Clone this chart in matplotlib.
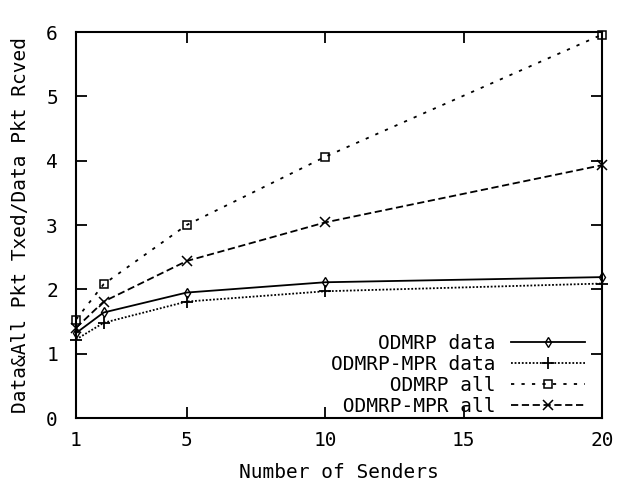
import matplotlib
matplotlib.use('Agg')
import matplotlib.pyplot as plt

# number of senders
senders = [1, 2, 5, 10, 20]

odmrp_data = [1.32, 1.64, 1.95, 2.11, 2.19]
mpr_data = [1.22, 1.48, 1.81, 1.97, 2.09]
odmrp_all = [1.53, 2.08, 3.0, 4.06, 5.96]
mpr_all = [1.40, 1.81, 2.44, 3.04, 3.93]

labels = ['ODMRP data', 'ODMRP-MPR data', 'ODMRP all', 'ODMRP-MPR all']
x_ticks = [1, 5, 10, 15, 20]
y_ticks = [0, 1, 2, 3, 4, 5, 6]

plt.rcParams['font.family'] = 'DejaVu Sans Mono'
FS = 14

fig = plt.figure(figsize=(6.26, 4.87), dpi=100)
ax = fig.add_axes([76 / 626, 69 / 487, 526 / 626, 386 / 487])

# pad to right-align the legend text (monospace font)
w = max(len(l) for l in labels)
lab = [l.rjust(w) for l in labels]

ax.plot(senders, odmrp_data, color='black', lw=1.3, ls='-', clip_on=False,
        marker='d', ms=5, mfc='none', mew=1.0, label=lab[0])
ax.plot(senders, mpr_data, color='black', lw=1.3, dashes=(1, 1), clip_on=False,
        marker='+', ms=9, mew=1.3, label=lab[1])
ax.plot(senders, odmrp_all, color='black', lw=1.3, dashes=(1.8, 4), clip_on=False,
        marker='s', ms=6, mfc='none', mew=1.1, label=lab[2])
ax.plot(senders, mpr_all, color='black', lw=1.3, dashes=(4, 2), clip_on=False,
        marker='x', ms=7, mew=1.1, label=lab[3])

ax.set_xlim(1, 20)
ax.set_ylim(0, 6)
ax.set_xticks(x_ticks)
ax.set_yticks(y_ticks)
ax.tick_params(direction='in', length=8, width=1.3, top=True, right=True,
               labelsize=FS, pad=9)
ax.tick_params(axis='y', pad=13)
for sp in ax.spines.values():
    sp.set_linewidth(1.5)

ax.set_xlabel('Number of Senders', fontsize=FS, labelpad=10)
ax.set_ylabel('Data&All Pkt Txed/Data Pkt Rcved', fontsize=FS, labelpad=12)

ax.legend(loc='lower right', bbox_to_anchor=(0.968, 0.005), frameon=False,
          fontsize=FS, handlelength=3.8, handletextpad=0.8, labelspacing=0.1,
          borderpad=0, borderaxespad=0, markerfirst=False)

fig.savefig('out.png', dpi=100)
